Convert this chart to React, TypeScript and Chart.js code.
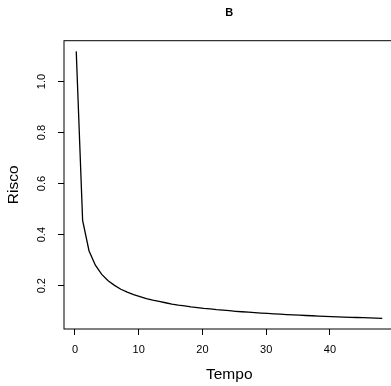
import React, { useEffect, useRef } from "react";
import { Chart, registerables } from "chart.js";

Chart.register(...registerables);

// Data
const tempo = [
  0.2, 1.2, 2.2, 3.2, 4.2, 5.2, 6.2, 7.2, 8.2, 9.2, 10.2, 11.2, 12.2, 13.2, 14.2,
  15.2, 16.2, 17.2, 18.2, 19.2, 20.2, 21.2, 22.2, 23.2, 24.2, 25.2, 26.2, 27.2,
  28.2, 29.2, 30.2, 31.2, 32.2, 33.2, 34.2, 35.2, 36.2, 37.2, 38.2, 39.2, 40.2,
  41.2, 42.2, 43.2, 44.2, 45.2, 46.2, 47.2, 48.2,
];
const risco = [
  1.118, 0.456, 0.337, 0.28, 0.244, 0.219, 0.201, 0.186, 0.175, 0.165, 0.157,
  0.149, 0.143, 0.138, 0.133, 0.128, 0.124, 0.121, 0.117, 0.114, 0.111, 0.109,
  0.106, 0.104, 0.102, 0.0996, 0.0977, 0.0959, 0.0942, 0.0925, 0.091, 0.0895,
  0.0881, 0.0868, 0.0855, 0.0843, 0.0831, 0.082, 0.0809, 0.0799, 0.0789, 0.0779,
  0.077, 0.0761, 0.0752, 0.0744, 0.0736, 0.0728, 0.072,
];
const xTicks = [0, 10, 20, 30, 40];
const yTicks = [0.2, 0.4, 0.6, 0.8, 1.0];
const chartTitle = "B";
const xLabel = "Tempo";
const yLabel = "Risco";

function paddedRange(arr: number[]): [number, number] {
  const mn = Math.min(...arr);
  const mx = Math.max(...arr);
  const d = (mx - mn) * 0.04;
  return [mn - d, mx + d];
}

export default function App() {
  const ref = useRef<HTMLCanvasElement>(null);

  useEffect(() => {
    const [xmin, xmax] = paddedRange(tempo);
    const [ymin, ymax] = paddedRange(risco);
    const family = "'Liberation Sans', Arial, Helvetica, sans-serif";

    const boxPlugin = {
      id: "box",
      afterDatasetsDraw(chart: any) {
        const { ctx, chartArea } = chart;
        const { left, top, right, bottom } = chartArea;
        ctx.save();
        ctx.strokeStyle = "#000";
        ctx.lineWidth = 1;
        ctx.strokeRect(left, top, right - left, bottom - top);
        ctx.restore();
      },
    };

    const chart = new Chart(ref.current!, {
      type: "line",
      data: {
        datasets: [
          {
            data: tempo.map((t, i) => ({ x: t, y: risco[i] })),
            borderColor: "#000",
            borderWidth: 1.3,
            pointRadius: 0,
            tension: 0,
            fill: false,
          },
        ],
      },
      options: {
        animation: false,
        responsive: false,
        events: [],
        layout: { padding: { left: 0, right: 5.5, top: 0, bottom: 0 } },
        plugins: {
          legend: { display: false },
          title: { display: false },
          tooltip: { enabled: false },
        },
        scales: {
          x: {
            type: "linear",
            position: "bottom",
            min: xmin,
            max: xmax,
            afterBuildTicks: (s: any) => {
              s.ticks = xTicks.map((v) => ({ value: v }));
            },
            afterFit: (s: any) => {
              s.height = 57;
            },
            grid: {
              display: true,
              drawOnChartArea: false,
              drawTicks: true,
              tickLength: 6,
              color: "#000",
              lineWidth: 1,
            },
            border: { display: false },
            ticks: {
              color: "#000",
              font: { family, size: 11 },
              padding: 8.4,
              maxRotation: 0,
              minRotation: 0,
              callback: (v: any) => String(v),
            },
            title: {
              display: true,
              text: xLabel,
              color: "#000",
              font: { family, size: 15.5 },
              padding: { top: 0, bottom: 2.1 },
            },
          },
          y: {
            type: "linear",
            position: "left",
            min: ymin,
            max: ymax,
            afterBuildTicks: (s: any) => {
              s.ticks = yTicks.map((v) => ({ value: v }));
            },
            afterFit: (s: any) => {
              s.width = 64;
            },
            grid: {
              display: true,
              drawOnChartArea: false,
              drawTicks: true,
              tickLength: 6,
              color: "#000",
              lineWidth: 1,
            },
            border: { display: false },
            ticks: {
              color: "#000",
              font: { family, size: 11 },
              padding: 8.4,
              minRotation: 90,
              maxRotation: 90,
              crossAlign: "center",
              callback: (v: any) => Number(v).toFixed(1),
            },
            title: {
              display: true,
              text: yLabel,
              color: "#000",
              font: { family, size: 15.5 },
              padding: { top: 4, bottom: 0 },
            },
          },
          x2: {
            type: "linear",
            position: "top",
            display: true,
            min: xmin,
            max: xmax,
            afterFit: (s: any) => {
              s.height = 40.7;
            },
            grid: { display: false, drawTicks: false },
            border: { display: false },
            ticks: { display: false },
            title: {
              display: true,
              text: chartTitle,
              color: "#000",
              font: { family, size: 11, weight: "bold" },
              padding: { top: 6.7, bottom: 0 },
            },
          },
        },
      } as any,
      plugins: [boxPlugin],
    });
    return () => chart.destroy();
  }, []);

  return (
    <div
      style={{
        position: "fixed",
        left: 0,
        top: 0,
        width: 391,
        height: 386,
        overflow: "hidden",
        background: "#fff",
      }}
    >
      <canvas
        ref={ref}
        width={400}
        height={386}
        style={{ display: "block", width: 400, height: 386 }}
      />
    </div>
  );
}
